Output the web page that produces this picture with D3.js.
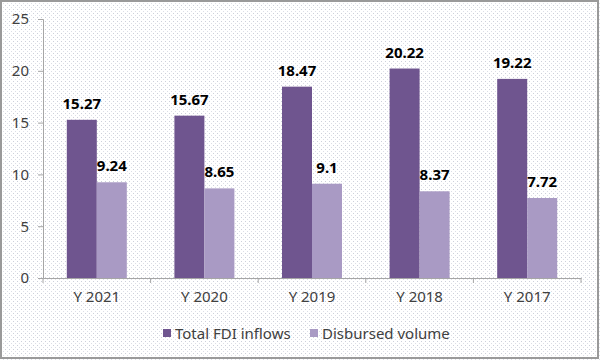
<!DOCTYPE html>
<html>
<head>
<meta charset="utf-8">
<script src="https://cdn.jsdelivr.net/npm/d3@7"></script>
<style>
  body { margin: 0; background: #fff; }
  svg text { font-family: "Noto Sans", "Open Sans", sans-serif; }
</style>
</head>
<body>
<div id="chart"></div>
<script>
// data
var categories = ["Y 2021", "Y 2020", "Y 2019", "Y 2018", "Y 2017"]
var fdiInflows = [15.27, 15.67, 18.47, 20.22, 19.22]
var disbursed = [9.24, 8.65, 9.1, 8.37, 7.72]
var seriesNames = ["Total FDI inflows", "Disbursed volume"]
var yTicks = [0, 5, 10, 15, 20, 25]

var W = 600, H = 360
var colors = ["#6f558f", "#a99ac4"]

var svg = d3.select("#chart").append("svg")
  .attr("width", W).attr("height", H)

// dotted background like the office chart fill
var defs = svg.append("defs")
var pat = defs.append("pattern")
  .attr("id", "dots").attr("width", 4).attr("height", 4)
  .attr("patternUnits", "userSpaceOnUse")
pat.append("rect").attr("width", 4).attr("height", 4).attr("fill", "#fff")
pat.append("rect").attr("x", 1).attr("y", 1).attr("width", 1).attr("height", 1).attr("fill", "#cdd0da")
pat.append("rect").attr("x", 3).attr("y", 3).attr("width", 1).attr("height", 1).attr("fill", "#dcdee6")

svg.append("rect").attr("x", 0).attr("y", 0).attr("width", W).attr("height", H)
  .attr("fill", "url(#dots)")
svg.append("rect").attr("x", 1).attr("y", 1).attr("width", W - 3).attr("height", H - 3)
  .attr("fill", "none").attr("stroke", "#9a9a9a").attr("stroke-width", 2)

var pLeft = 43, pRight = 581, pTop = 19, pBottom = 278

var x = d3.scaleBand().domain(categories).range([pLeft, pRight])
var y = d3.scaleLinear().domain([0, 25]).range([pBottom, pTop])
var barW = 30

var rows = categories.map(function (c, i) {
  return { cat: c, vals: [fdiInflows[i], disbursed[i]] }
})

// y axis
var yAxis = svg.append("g")
  .attr("transform", "translate(" + pLeft + ",0)")
  .call(d3.axisLeft(y).tickValues(yTicks).tickSize(5).tickPadding(9))
yAxis.select(".domain").attr("stroke", "#a6a6a6")
yAxis.selectAll(".tick line").attr("stroke", "#a6a6a6")
yAxis.selectAll("text").attr("font-size", 15).attr("fill", "#404040")

// x axis
var xAxis = svg.append("g")
  .attr("transform", "translate(0," + pBottom + ")")
  .call(d3.axisBottom(x).tickSize(0).tickPadding(13))
xAxis.select(".domain").attr("stroke", "#a6a6a6")
xAxis.selectAll("text").attr("font-size", 15).attr("fill", "#404040")
// category separators
xAxis.selectAll(".sep")
  .data(d3.range(categories.length + 1))
  .enter().append("line")
  .attr("x1", function (i) { return pLeft + i * x.bandwidth() })
  .attr("x2", function (i) { return pLeft + i * x.bandwidth() })
  .attr("y1", 0).attr("y2", 5)
  .attr("stroke", "#a6a6a6")

// bars
var groups = svg.selectAll(".grp")
  .data(rows)
  .enter().append("g")
  .attr("transform", function (d) { return "translate(" + (x(d.cat) + x.bandwidth() / 2 - barW) + ",0)" })

groups.selectAll("rect")
  .data(function (d) { return d.vals })
  .enter().append("rect")
  .attr("x", function (d, i) { return i * barW })
  .attr("y", function (d) { return y(d) })
  .attr("width", barW)
  .attr("height", function (d) { return pBottom - y(d) })
  .attr("fill", function (d, i) { return colors[i] })

groups.selectAll("text")
  .data(function (d) { return d.vals })
  .enter().append("text")
  .attr("x", function (d, i) { return i * barW + barW / 2 })
  .attr("y", function (d) { return y(d) - 11 })
  .attr("text-anchor", "middle")
  .attr("font-size", 15).attr("font-weight", "bold").attr("fill", "#000")
  .text(function (d) { return d })

// legend
var legX = [163, 310]
var leg = svg.selectAll(".leg")
  .data(seriesNames)
  .enter().append("g")
  .attr("transform", function (d, i) { return "translate(" + legX[i] + ",329)" })
leg.append("rect").attr("width", 8).attr("height", 8)
  .attr("fill", function (d, i) { return colors[i] })
leg.append("text").attr("x", 12).attr("y", 9.5)
  .attr("font-size", 15).attr("fill", "#404040")
  .text(function (d) { return d })
</script>
</body>
</html>
